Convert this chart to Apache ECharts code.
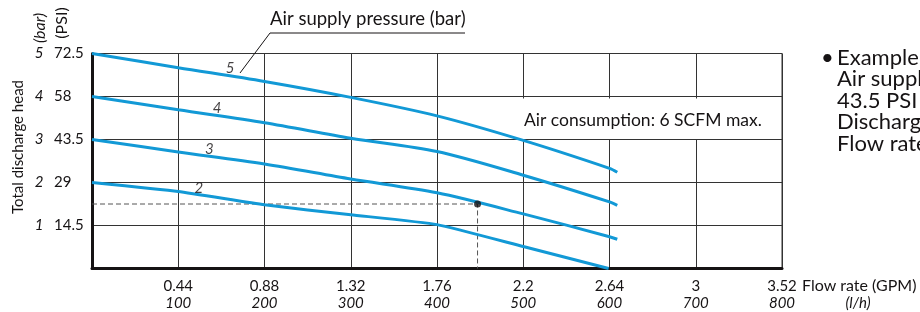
<!DOCTYPE html>
<html>
<head>
<meta charset="utf-8">
<script src="https://cdn.jsdelivr.net/npm/echarts@6/dist/echarts.min.js"></script>
<style>
  html, body { margin: 0; padding: 0; background: #fff; }
  #main { width: 920px; height: 312px; }
</style>
</head>
<body>
<div id="main"></div>
<script>
// flow rate in l/h, head in bar
const flowPts = [0, 100, 200, 300, 400, 500, 600, 609]
const head5 = [5.0, 4.67, 4.35, 3.98, 3.55, 2.98, 2.33, 2.24]
const head4 = [4.0, 3.69, 3.39, 3.03, 2.72, 2.17, 1.55, 1.47]
const head3 = [3.0, 2.71, 2.43, 2.08, 1.76, 1.27, 0.74, 0.68]
const flow2 = [0, 100, 200, 300, 400, 500, 599]
const head2 = [2.0, 1.79, 1.48, 1.25, 1.02, 0.51, 0]

// curve number labels (air supply pressure, bar)
const curveNames = ['5', '4', '3', '2']
const labelFlow = [160, 145, 136, 124]
const labelHead = [4.67, 3.74, 2.78, 1.86]

// worked example point
const exampleFlow = 447
const exampleHead = 1.5

// tick labels
const gpmLabels = ['', '0.44', '0.88', '1.32', '1.76', '2.2', '2.64', '3', '3.52']
const lhLabels = ['', '100', '200', '300', '400', '500', '600', '700', '800']
const barLabels = ['', '1', '2', '3', '4', '5']
const psiLabels = ['', '14.5', '29', '43.5', '58', '72.5']

const FONT = 'Lato'
const BLUE = '#1299d6'
const INK = '#161314'

const pairs = (xs, ys) => xs.map((x, i) => [x, ys[i]])

const curve = (name, data, smooth) => ({
  name: name,
  type: 'line',
  data: data,
  symbol: 'none',
  smooth: smooth,
  z: 4,
  lineStyle: { color: BLUE, width: 3 }
})

const myChart = echarts.init(document.getElementById('main'))

const option = {
  animation: false,
  backgroundColor: '#fff',
  textStyle: { fontFamily: FONT, color: INK },
  grid: {
    left: 92, right: 138, top: 53.5, bottom: 43.5,
    show: true, borderColor: '#333', borderWidth: 1
  },
  xAxis: {
    type: 'value', min: 0, max: 800, interval: 100,
    axisLine: { show: true, onZero: false, lineStyle: { color: INK, width: 3 } },
    axisTick: { show: false },
    splitLine: { lineStyle: { color: '#333', width: 1 } },
    axisLabel: {
      margin: 9,
      formatter: v => {
        const i = Math.round(v / 100)
        if (!gpmLabels[i]) return ''
        return '{g|' + gpmLabels[i] + '}\n{l|' + lhLabels[i] + '}'
      },
      rich: {
        g: { fontFamily: FONT, fontSize: 15, color: INK, lineHeight: 17 },
        l: { fontFamily: FONT, fontSize: 15, color: INK, lineHeight: 17, fontStyle: 'italic' }
      }
    }
  },
  yAxis: [
    {
      type: 'value', min: 0, max: 5, interval: 1,
      axisLine: { show: true, lineStyle: { color: INK, width: 3 } },
      axisTick: { show: false },
      splitLine: { lineStyle: { color: '#333', width: 1 } },
      axisLabel: {
        margin: 53, align: 'center', fontFamily: FONT, fontSize: 15, color: INK, fontStyle: 'italic',
        formatter: v => barLabels[Math.round(v)] || ''
      }
    },
    {
      type: 'value', min: 0, max: 5, interval: 1, position: 'left',
      axisLine: { show: false }, axisTick: { show: false }, splitLine: { show: false },
      axisLabel: {
        margin: 38, align: 'left', fontFamily: FONT, fontSize: 15, color: INK,
        formatter: v => psiLabels[Math.round(v)] || ''
      }
    }
  ],
  series: [
    curve('5 bar', pairs(flowPts, head5), 0.3),
    curve('4 bar', pairs(flowPts, head4), 0.3),
    curve('3 bar', pairs(flowPts, head3), 0.3),
    curve('2 bar', pairs(flow2, head2), 0.15),
    {
      name: 'example guide',
      type: 'line',
      data: [[0, exampleHead], [exampleFlow, exampleHead], [exampleFlow, 0]],
      symbol: 'none',
      z: 3,
      lineStyle: { color: '#555', width: 1, type: [5, 3] }
    },
    {
      name: 'example',
      type: 'scatter',
      data: [[exampleFlow, exampleHead]],
      symbolSize: 7,
      z: 6,
      itemStyle: { color: INK }
    },
    {
      name: 'curve labels',
      type: 'scatter',
      data: labelFlow.map((x, i) => [x, labelHead[i], curveNames[i]]),
      symbolSize: 0,
      z: 6,
      label: {
        show: true, position: 'inside', formatter: p => p.value[2],
        fontFamily: FONT, fontSize: 15, fontStyle: 'italic', color: INK
      }
    }
  ],
  graphic: [
    {
      type: 'rect', z: 1,
      shape: { x: 520, y: 98.5, width: 261, height: 40.5 },
      style: { fill: '#fff' }
    },
    {
      type: 'text', z: 5, x: 524, y: 120,
      style: { text: 'Air consumption: 6 SCFM max.', font: '17.5px ' + FONT, fill: INK, verticalAlign: 'middle' }
    },
    {
      type: 'polyline', z: 5,
      shape: { points: [[240, 73], [270, 33], [465, 33]] },
      style: { stroke: INK, lineWidth: 1, fill: null }
    },
    {
      type: 'text', z: 5, x: 270, y: 19,
      style: { text: 'Air supply pressure (bar)', font: '18.5px ' + FONT, fill: INK, verticalAlign: 'middle' }
    },
    {
      type: 'text', z: 5, x: 18, y: 147, rotation: Math.PI / 2,
      style: { text: 'Total discharge head', font: '15px ' + FONT, fill: INK, align: 'center', verticalAlign: 'middle' }
    },
    {
      type: 'text', z: 5, x: 40, y: 28, rotation: Math.PI / 2,
      style: { text: '(bar)', font: 'italic 16px ' + FONT, fill: INK, align: 'center', verticalAlign: 'middle' }
    },
    {
      type: 'text', z: 5, x: 62, y: 23, rotation: Math.PI / 2,
      style: { text: '(PSI)', font: '16px ' + FONT, fill: INK, align: 'center', verticalAlign: 'middle' }
    },
    {
      type: 'text', z: 5, x: 802, y: 286,
      style: { text: 'Flow rate (GPM)', font: '16px ' + FONT, fill: INK, verticalAlign: 'middle' }
    },
    {
      type: 'text', z: 5, x: 858, y: 303,
      style: { text: '(l/h)', font: 'italic 15px ' + FONT, fill: INK, align: 'center', verticalAlign: 'middle' }
    },
    {
      type: 'text', z: 5, x: 821, y: 58,
      style: { text: '•', font: '22px ' + FONT, fill: INK, verticalAlign: 'middle' }
    },
    {
      type: 'text', z: 5, x: 837, y: 47,
      style: {
        text: 'Example:\nAir supply pressure 3 bar\n43.5 PSI\nDischarge head 1.5 bar\nFlow rate 447 l/h',
        font: '22px ' + FONT, fill: INK, lineHeight: 21.5, verticalAlign: 'top'
      }
    }
  ]
}

myChart.setOption(option)
</script>
</body>
</html>
